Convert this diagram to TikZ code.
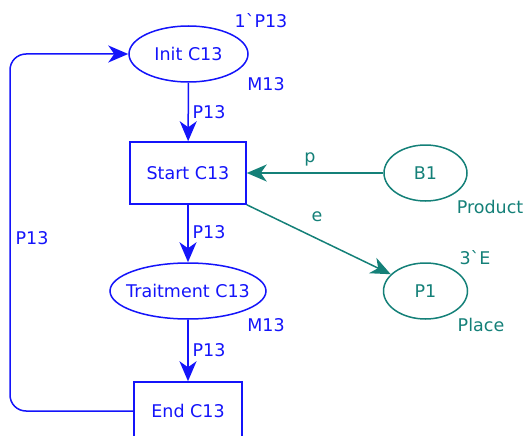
\documentclass[tikz,border=0pt]{standalone}
\usepackage{fontspec}
\setmainfont{DejaVu Sans}
\usetikzlibrary{shapes.geometric,arrows.meta}
\definecolor{pblue}{RGB}{20,20,250}
\definecolor{pteal}{RGB}{20,128,120}
\begin{document}
\begin{tikzpicture}[x=1pt,y=-1pt,
  font=\fontsize{17.5}{19}\selectfont,
  line width=1.5pt,
  arr/.style={-{Stealth[length=20pt,width=17pt,inset=6pt]}},
  place/.style={ellipse, draw, inner sep=0pt, minimum height=56pt},
  trans/.style={rectangle, draw, inner sep=0pt},
  lbl/.style={inner sep=0pt},
  bl/.style={draw=pblue, text=pblue},
  tl/.style={draw=pteal, text=pteal}]
\useasboundingbox (0,0) rectangle (525,436);
% places and transitions
\node[place, bl, minimum width=119pt] (init) at (188.5,54) {\makebox[0pt]{Init C13}};
\node[trans, bl, minimum width=116pt, minimum height=62pt] (start) at (188,173) {\makebox[0pt]{Start C13}};
\node[place, bl, minimum width=156pt] (trait) at (188,291) {\makebox[0pt]{Traitment C13}};
\node[trans, bl, minimum width=108pt, minimum height=58pt] (endt) at (188,411) {\makebox[0pt]{End C13}};
\node[place, tl, minimum width=83pt] (b1) at (425.5,173) {\makebox[0pt]{B1}};
\node[place, tl, minimum width=84pt] (p1) at (425.5,291) {\makebox[0pt]{P1}};
% place annotations
\node[lbl, text=pblue] (initm) at (261,21) {1\textasciigrave P13};
\node[lbl, text=pblue] (inittype) at (266,84) {M13};
\node[lbl, text=pblue] (traittype) at (266,325) {M13};
\node[lbl, text=pteal] (b1type) at (490,207) {Product};
\node[lbl, text=pteal] (p1m) at (475,258) {3\textasciigrave E};
\node[lbl, text=pteal] (p1type) at (481,325) {Place};
% arcs
\draw[arr, pblue] (init) -- (start);
\draw[arr, pblue] (start) -- (trait);
\draw[arr, pblue] (trait) -- (endt);
\coordinate (loop) at (10,230);
\draw[arr, pblue, rounded corners=16pt] (endt.west) -| (loop) |- (init.west);
\draw[arr, pteal] (b1) -- (start);
\draw[arr, pteal] (start.south east) -- (p1);
% arc labels
\node[lbl, text=pblue] (a1) at (209,112) {P13};
\node[lbl, text=pblue] (a2) at (209,232) {P13};
\node[lbl, text=pblue] (a3) at (209,350) {P13};
\node[lbl, text=pblue] (a4) at (32,238) {P13};
\node[lbl, text=pteal] (a5) at (310,159) {p};
\node[lbl, text=pteal] (a6) at (317,217) {e};
\end{tikzpicture}
\end{document}
